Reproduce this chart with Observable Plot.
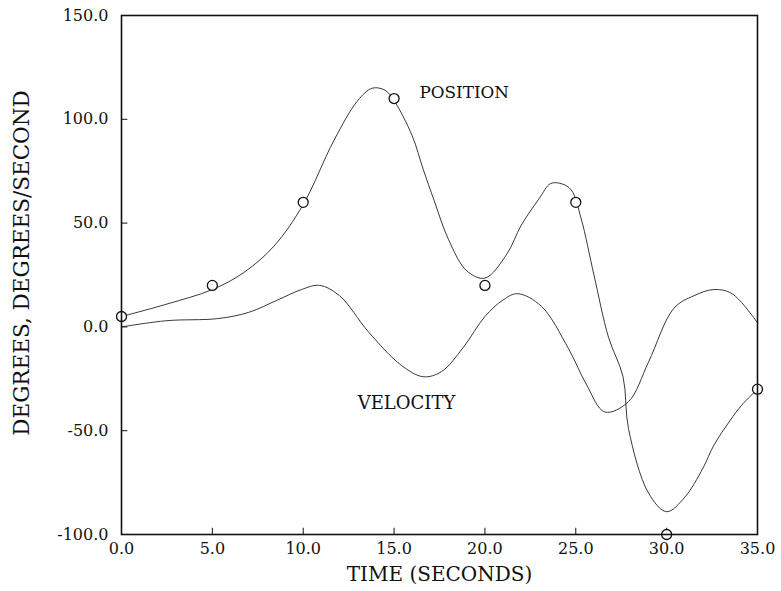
<!DOCTYPE html>
<html>
<head>
<meta charset="utf-8">
<script src="https://cdn.jsdelivr.net/npm/d3@7"></script>
<script src="https://cdn.jsdelivr.net/npm/@observablehq/plot@0.6"></script>
<style>
  body { margin: 0; background: #fff; }
</style>
</head>
<body>
<div id="chart"></div>
<script>
// Sampled points (circles)
const sampleT = [0, 5, 10, 15, 20, 25, 30, 35];
const sampleV = [5, 20, 60, 110, 20, 60, -100, -30];

// Position curve
const posT = [0, 2.5, 5, 6.7, 8.4, 10, 11.7, 13, 13.8, 14.5, 15, 16, 16.6, 17.2, 18, 19, 20, 21.2, 22, 23, 23.6, 24.2, 24.75, 25.3, 26, 26.8, 27.6, 27.9, 29, 30, 31, 32, 32.6, 33.5, 34.1, 35];
const posV = [5, 11, 18, 26, 39, 59, 90, 109, 115, 114, 109, 92, 76, 61, 42, 27, 23.5, 35, 49, 62, 69, 69, 66, 52, 25, -5, -24, -49, -80, -89, -82, -68, -57, -45, -38, -30];

// Velocity curve
const velT = [0, 2.5, 5.3, 7, 8.6, 9.9, 10.9, 12, 13.6, 15.4, 16.6, 17.6, 18.8, 20, 21, 21.8, 23.1, 24.6, 25.6, 26.6, 27.9, 29, 30.4, 31.5, 32.6, 33.6, 35];
const velV = [0, 3, 4, 7, 13, 18, 20, 15, -2.5, -18.5, -24, -21.6, -10, 5, 13, 16, 10, -10.5, -28, -41, -36, -17, 9, 15, 18, 16, 2];

const xTicks = [0, 5, 10, 15, 20, 25, 30, 35];
const yTicks = [-100, -50, 0, 50, 100, 150];

const xLabel = "TIME (SECONDS)";
const yLabel = "DEGREES, DEGREES/SECOND";
const curveLabels = ["POSITION", "VELOCITY"];

const samples = sampleT.map((t, i) => ({t, v: sampleV[i]}));
const pos = posT.map((t, i) => ({t, v: posV[i]}));
const vel = velT.map((t, i) => ({t, v: velV[i]}));

const serif = "'DejaVu Serif', 'Liberation Serif', serif";

const plot = Plot.plot({
  width: 781,
  height: 591,
  marginLeft: 121,
  marginRight: 24,
  marginTop: 15,
  marginBottom: 57,
  style: {fontFamily: serif, fontSize: "16px", background: "#fff", color: "#111"},
  x: {domain: [0, 35]},
  y: {domain: [-100, 150]},
  marks: [
    Plot.axisX({ticks: xTicks, tickFormat: d => d.toFixed(1), tickSize: 0, tickPadding: 8, fontSize: 16, label: null}),
    Plot.axisY({ticks: yTicks, tickFormat: d => d.toFixed(1), tickSize: 0, tickPadding: 13, fontSize: 16, label: null}),
    Plot.text([xLabel], {frameAnchor: "bottom", lineAnchor: "middle", dy: 40, text: d => d, fontSize: 20, fill: "#111"}),
    Plot.text([yLabel], {frameAnchor: "left", textAnchor: "middle", lineAnchor: "middle", rotate: -90, dx: -99, dy: -12, text: d => d, fontSize: 21.5, fill: "#111"}),
    Plot.ruleX(xTicks.slice(1, -1), {y1: -100, y2: -97, stroke: "#111", strokeWidth: 1}),
    Plot.ruleY(yTicks.slice(1, -1), {x1: 0, x2: 0.35, stroke: "#111", strokeWidth: 1}),
    Plot.line(vel, {x: "t", y: "v", curve: "catmull-rom", stroke: "#222", strokeWidth: 0.9}),
    Plot.line(pos, {x: "t", y: "v", curve: "catmull-rom", stroke: "#222", strokeWidth: 0.9}),
    Plot.dot(samples, {x: "t", y: "v", r: 5, stroke: "#111", fill: "white", strokeWidth: 1.3}),
    Plot.frame({stroke: "#111", strokeWidth: 1.6}),
    Plot.text([curveLabels[0]], {x: 16.4, y: 113, text: d => d, textAnchor: "start", fontSize: 16.8, fill: "#111"}),
    Plot.text([curveLabels[1]], {x: 13, y: -37, text: d => d, textAnchor: "start", fontSize: 18, fill: "#111"})
  ]
});
document.getElementById("chart").appendChild(plot);
</script>
</body>
</html>
